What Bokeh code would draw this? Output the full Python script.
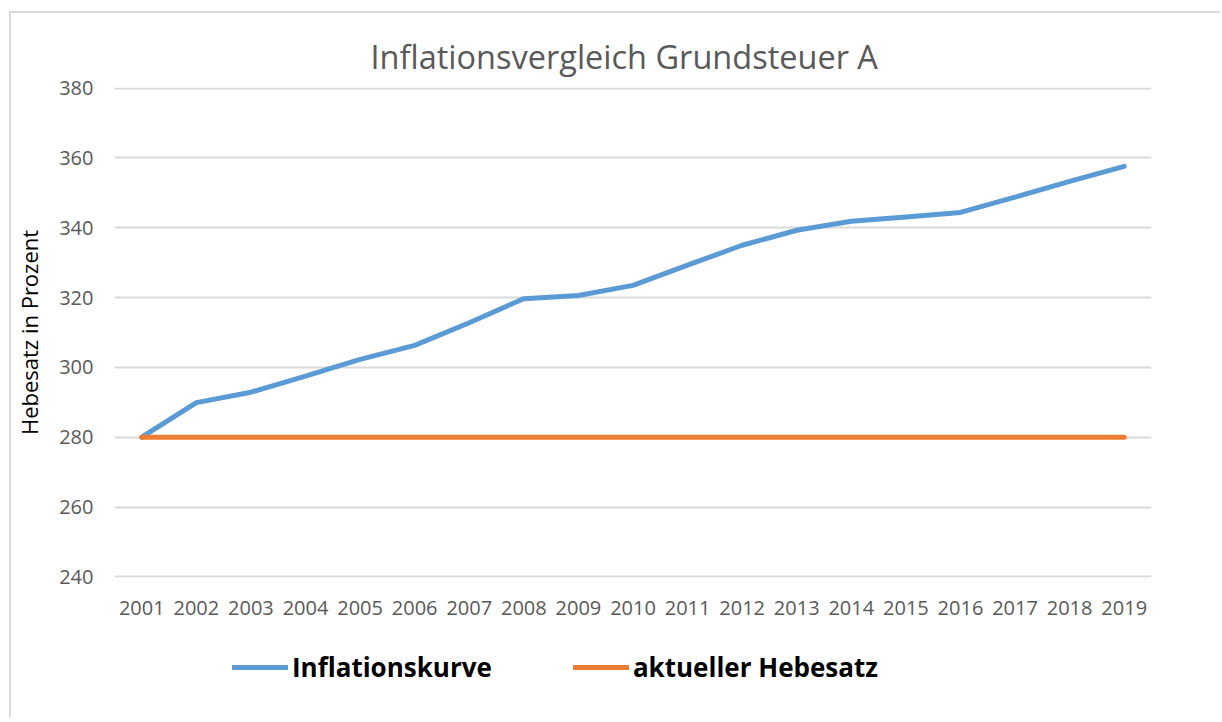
from bokeh.plotting import figure
from bokeh.layouts import column
from bokeh.models import FactorRange, Range1d, FixedTicker, Legend, LegendItem
from bokeh.embed import file_html
from bokeh.resources import INLINE

years = [str(y) for y in range(2001, 2020)]
inflationskurve = [280, 289.9, 292.9, 297.5, 302.3, 306.3, 312.8, 319.7, 320.6, 323.5,
                   329.3, 335.0, 339.3, 341.9, 343.1, 344.4, 348.8, 353.3, 357.6]
aktueller_hebesatz = [280] * 19
y_ticks = [240, 260, 280, 300, 320, 340, 360, 380]
series_names = ["Inflationskurve", "aktueller Hebesatz"]

FONT = "Open Sans"
GREY = "#595959"
BLUE = "#5B9BD5"
ORANGE = "#ED7D31"

p = figure(x_range=FactorRange(*years), y_range=Range1d(239.8, 380.2),
           frame_width=1037, frame_height=490,
           min_border_left=102, min_border_top=74, min_border_right=69, min_border_bottom=50,
           output_backend="svg", toolbar_location=None,
           title="Inflationsvergleich Grundsteuer A")

p.title.align = "left"
p.title.text_font = FONT
p.title.text_font_size = "32.5px"
p.title.text_font_style = "normal"
p.title.text_color = GREY
p.title.standoff = 18
p.title.offset = 256

p.outline_line_color = None
p.background_fill_color = "white"
p.border_fill_color = "white"

p.xgrid.grid_line_color = None
p.ygrid.grid_line_color = "#d9d9d9"
p.ygrid.grid_line_width = 2
p.yaxis.ticker = FixedTicker(ticks=y_ticks)

for ax in (p.xaxis, p.yaxis):
    ax.axis_line_color = None
    ax.major_tick_line_color = None
    ax.minor_tick_line_color = None
    ax.major_tick_out = 0
    ax.major_tick_in = 0
    ax.major_label_text_font = FONT
    ax.major_label_text_font_size = "20px"
    ax.major_label_text_color = GREY

p.xaxis.major_label_standoff = 23
p.yaxis.major_label_standoff = 21
p.yaxis.axis_label = "Hebesatz in Prozent"
p.yaxis.axis_label_text_font = FONT
p.yaxis.axis_label_text_font_size = "22px"
p.yaxis.axis_label_text_font_style = "normal"
p.yaxis.axis_label_text_color = "black"
p.yaxis.axis_label_standoff = 12

p.line(years, inflationskurve, line_color=BLUE, line_width=5,
       line_cap="round", line_join="round")
p.line(years, aktueller_hebesatz, line_color=ORANGE, line_width=5,
       line_cap="round", line_join="round")

# legend strip below the chart (its lines fall outside this strip's range, so only the legend shows)
p2 = figure(width=1208, height=90, min_border=0, x_range=FactorRange(*years), y_range=Range1d(0, 1),
            x_axis_location=None, y_axis_location=None,
            output_backend="svg", toolbar_location=None)
p2.grid.grid_line_color = None
p2.outline_line_color = None
p2.border_fill_color = "white"
lr1 = p2.line(years, inflationskurve, line_color=BLUE, line_width=5, line_cap="round")
lr2 = p2.line(years, aktueller_hebesatz, line_color=ORANGE, line_width=5, line_cap="round")

legend = Legend(items=[LegendItem(label=series_names[0], renderers=[lr1]),
                       LegendItem(label=series_names[1], renderers=[lr2])],
                orientation="horizontal", location=(118, 32))
legend.label_text_font = FONT
legend.label_text_font_size = "26px"
legend.label_text_font_style = "bold"
legend.label_text_color = "black"
legend.glyph_width = 56
legend.glyph_height = 24
legend.label_standoff = 4
legend.spacing = 81
legend.padding = 0
legend.margin = 0
legend.border_line_color = None
legend.background_fill_alpha = 0
p2.add_layout(legend, "center")

layout = column(p, p2, spacing=0)
layout.margin = (11, 0, 0, 9)
layout.styles = {"border-left": "2px solid #d9d9d9", "border-top": "2px solid #d9d9d9"}

open("out.html", "w").write(file_html(layout, INLINE))
